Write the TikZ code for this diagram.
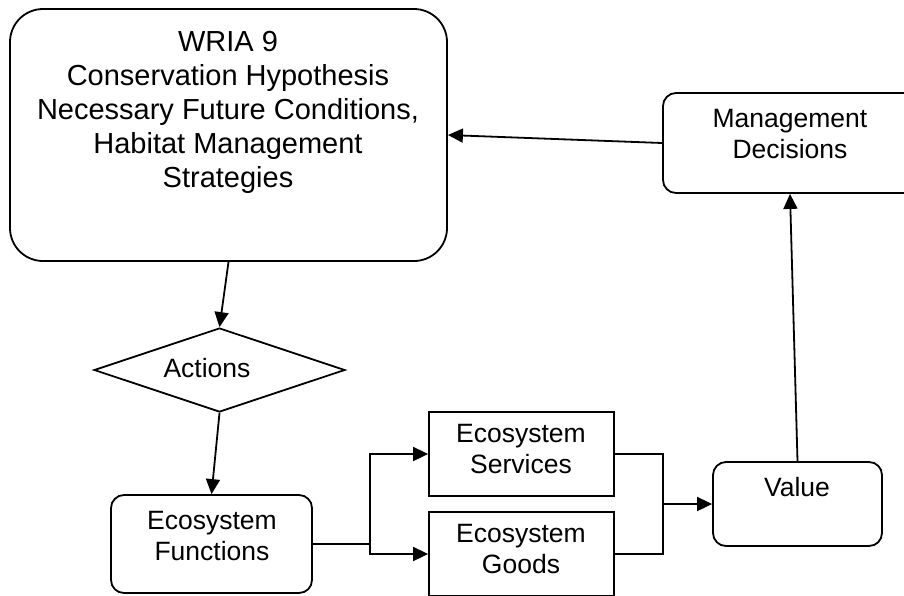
\documentclass[tikz,border=0pt]{standalone}
\usepackage{fontspec}
\setmainfont{Liberation Sans}
\usetikzlibrary{arrows.meta,shapes.geometric}
\begin{document}
\begin{tikzpicture}[x=1pt,y=-1pt,line width=1.8pt,
  boxr/.style={draw, rounded corners=13pt, inner sep=0pt},
  rect/.style={draw, inner sep=0pt},
  lbl/.style={font=\fontsize{26.5}{31}\selectfont, align=center, inner sep=0pt},
  biglbl/.style={font=\fontsize{29}{34}\selectfont, align=center, inner sep=0pt},
  arr/.style={-{Triangle[length=15pt,width=14pt]}}]
\useasboundingbox (0,0) rectangle (904,595);
% boxes
\node[boxr, rounded corners=33pt, minimum width=437pt, minimum height=252pt] (wria) at (228.5,135) {};
\node[biglbl] (wriatxt) at (228,112.5) {WRIA 9\\Conservation Hypothesis\\Necessary Future Conditions,\\Habitat Management\\Strategies};
\node[boxr, minimum width=254pt, minimum height=100pt] (mgmt) at (790,143) {};
\node[lbl] (mgmttxt) at (790,134) {Management\\Decisions};
\node[diamond, draw, minimum width=251pt, minimum height=84pt, inner sep=0pt] (act) at (219.5,370) {};
\node[lbl] (acttxt) at (207,368) {Actions};
\node[boxr, minimum width=201pt, minimum height=98pt] (func) at (211.5,544) {};
\node[lbl] (functxt) at (212,536) {Ecosystem\\Functions};
\node[rect, minimum width=185pt, minimum height=84pt] (serv) at (521.5,454) {};
\node[lbl] (servtxt) at (521,449) {Ecosystem\\Services};
\node[rect, minimum width=185pt, minimum height=84pt] (goods) at (521.5,554) {};
\node[lbl] (goodstxt) at (521,549) {Ecosystem\\Goods};
\node[boxr, minimum width=169pt, minimum height=84pt] (val) at (797.5,504) {};
\node[lbl] (valtxt) at (797,487) {Value};
% helper coordinates
\coordinate (splitx) at (370,0);
\coordinate (mergex) at (663,0);
% connectors
\draw[arr] (mgmt.west) -- (wria.east);
\draw[arr] (wria.south) -- (act.north);
\draw[arr] (act.south) -- (func.north);
\draw (func.east) -- (func.east -| splitx);
\draw[arr] (func.east -| splitx) |- (serv.west);
\draw[arr] (func.east -| splitx) |- (goods.west);
\draw (serv.east) -| (mergex |- val.west);
\draw (goods.east) -| (mergex |- val.west);
\draw[arr] (mergex |- val.west) -- (val.west);
\draw[arr] (val.north) -- (mgmt.south);
\end{tikzpicture}
\end{document}
